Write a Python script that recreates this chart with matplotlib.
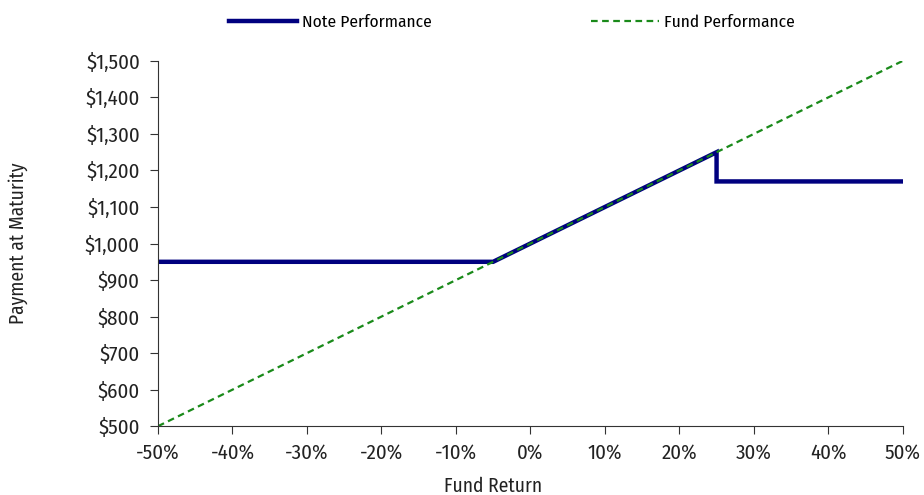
import matplotlib
matplotlib.use("Agg")
import matplotlib.pyplot as plt
from matplotlib.ticker import FuncFormatter

plt.rcParams['font.family'] = ['Fira Sans Condensed', 'DejaVu Sans']

# Data
note_x = [-0.50, -0.05, 0.25, 0.25, 0.50]
note_y = [950, 950, 1250, 1170, 1170]
fund_x = [-0.50, 0.50]
fund_y = [500, 1500]
x_ticks = [-0.5, -0.4, -0.3, -0.2, -0.1, 0.0, 0.1, 0.2, 0.3, 0.4, 0.5]
y_ticks = [500, 600, 700, 800, 900, 1000, 1100, 1200, 1300, 1400, 1500]

fig = plt.figure(figsize=(9.24, 4.95), dpi=100)
ax = fig.add_axes([0.171, 0.139, 0.806, 0.738])

ax.plot(note_x, note_y, color='#00007f', lw=3.2, label='Note Performance', solid_joinstyle='miter')
ax.plot(fund_x, fund_y, color='#1a8a1a', lw=1.6, ls=(0, (3, 2)), label='Fund Performance')

ax.set_xlim(-0.5, 0.5)
ax.set_ylim(500, 1500)
ax.set_xticks(x_ticks)
ax.set_yticks(y_ticks)
ax.xaxis.set_major_formatter(FuncFormatter(lambda v, p: f"{round(v*100):d}%"))
ax.yaxis.set_major_formatter(FuncFormatter(lambda v, p: f"${v:,.0f}"))
for s in ['top', 'right']:
    ax.spines[s].set_visible(False)
for s in ['left', 'bottom']:
    ax.spines[s].set_color('#333333')
ax.tick_params(axis='both', direction='out', length=6, color='#333333', labelsize=15, labelcolor='#222222')
ax.tick_params(axis='x', pad=6)
ax.tick_params(axis='y', pad=7)
ax.set_xlabel('Fund Return', fontsize=14, color='#222222')
ax.xaxis.set_label_coords((493 - 158) / 745, -0.165)
ax.set_ylabel('Payment at Maturity', fontsize=14, color='#222222')
ax.yaxis.set_label_coords(-(158 - 18) / 745 * (745 / 745) * (924 / 924) * 1.0, 0.5)
ax.yaxis.label.set_verticalalignment('center')
ax.xaxis.label.set_verticalalignment('center')

fig.legend(loc='center', bbox_to_anchor=(0.554, 0.955), ncol=2, frameon=False,
           fontsize=12.5, columnspacing=9.2, handlelength=3.9, handletextpad=0.3)

fig.savefig('out.png', dpi=100)
